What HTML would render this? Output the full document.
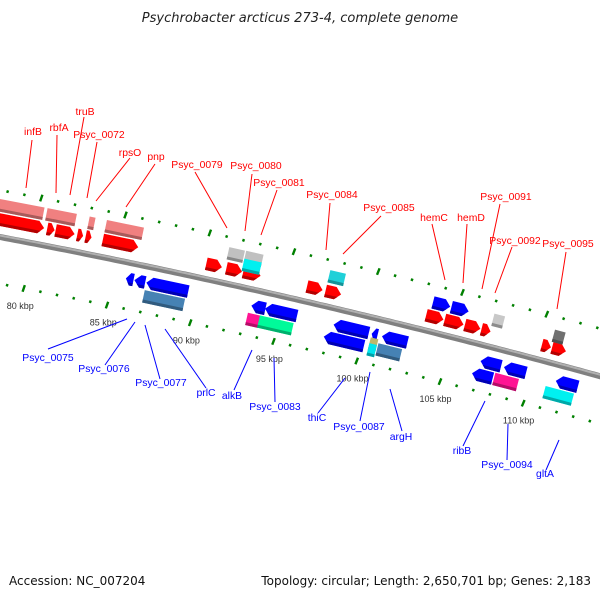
<!DOCTYPE html>
<html><head><meta charset="utf-8"><style>
body{margin:0;background:#fff}
svg{display:block}
text{font-family:"Liberation Sans",sans-serif}
</style></head><body>
<svg id="chart" width="600" height="600" viewBox="0 0 600 600" xmlns="http://www.w3.org/2000/svg">
<text x="300" y="22" text-anchor="middle" font-size="13" font-style="italic" fill="#222" style="font-family:'DejaVu Sans',sans-serif">Psychrobacter arcticus 273-4, complete genome</text>
<g id="ticks"></g>
<g id="backbone"></g>
<g id="genes"></g>
<g id="labels"></g>
<text x="9" y="585" font-size="12" fill="#111" style="font-family:'DejaVu Sans',sans-serif">Accession: NC_007204</text>
<text x="591" y="585" font-size="12" fill="#111" text-anchor="end" style="font-family:'DejaVu Sans',sans-serif">Topology: circular; Length: 2,650,701 bp; Genes: 2,183</text>
</svg>
<script>
// tick data (kbp)
const tickKb = [];
for (let k = 77; k <= 114; k++) tickKb.push(k);
const tickLabelKb = [80, 85, 90, 95, 100, 105, 110];
// genes: start kb, end kb, strand(1 fwd,-1 rev), row offset, colour
const geneStart = [77.5,80.7,81.2,82.5,83.0,84.0, 90.2,91.4,92.4, 96.2,97.3, 103.3,104.4,105.6,106.6, 110.2,110.8,
  77.5,80.5,80.9,83.0,84.0, 91.3,92.3,92.3, 97.3, 103.5,104.6, 107.1, 110.7,
  85.8,86.3,87.0, 93.3,94.1, 98.2,100.5,101.1, 107.0,108.4, 111.5,
  87.0, 93.2,93.9, 97.8,100.5,100.5, 101.0, 106.7,108.0, 111.0];
const geneEnd = [80.5,81.1,82.3,82.8,83.3,86.1, 91.1,92.3,93.4, 97.1,98.2, 104.3,105.5,106.5,107.1, 110.7,111.6,
  80.3,80.9,82.2,83.3,86.2, 92.2,93.3,93.3, 98.2, 104.5,105.6, 107.7, 111.3,
  86.2,86.9,89.5, 94.1,96.0, 100.3,100.8,102.6, 108.2,109.7, 112.8,
  89.4, 93.9,95.9, 100.2,100.9,100.9, 102.4, 107.9,109.4, 112.7];
const geneStrand = [1,1,1,1,1,1, 1,1,1, 1,1, 1,1,1,1, 1,1,
  0,0,0,0,0, 0,0,0, 0, 1,1, 0, 0,
  -1,-1,-1, -1,-1, -1,-1,-1, -1,-1, -1,
  0, 0,0, -1,0,0, 0, -1,0, 0];
const geneRow = [-17,-17,-17,-17,-17,-17, -15,-15,-15, -15,-15, -15,-15,-15,-15, -15,-15,
  -31,-31,-31,-31,-31, -30,-30,-22, -30, -29,-29, -27, -27,
  16,16,16, 16,16, 16,16,16, 16,16, 16,
  30, 30,30, 30,26,32, 30, 30,30, 30];
const geneColor = ['#ff0000','#ff0000','#ff0000','#ff0000','#ff0000','#ff0000','#ff0000','#ff0000','#ff0000','#ff0000','#ff0000','#ff0000','#ff0000','#ff0000','#ff0000','#ff0000','#ff0000',
  '#f08080','#f08080','#f08080','#f08080','#f08080','#c0c0c0','#c0c0c0','#00f0f0','#20d0d8','#0000ff','#0000ff','#c8c8c8','#707070',
  '#0000ff','#0000ff','#0000ff','#0000ff','#0000ff','#0000ff','#0000ff','#0000ff','#0000ff','#0000ff','#0000ff',
  '#4682b4','#ff1493','#00fa9a','#0000ff','#bdb76b','#00e5ee','#4682b4','#0000ff','#ff1493','#00f0f0'];
// labels
const labelText = ['infB','rbfA','truB','Psyc_0072','rpsO','pnp','Psyc_0079','Psyc_0080','Psyc_0081','Psyc_0084','Psyc_0085','hemC','hemD','Psyc_0091','Psyc_0092','Psyc_0095',
  'Psyc_0075','Psyc_0076','Psyc_0077','prlC','alkB','Psyc_0083','thiC','Psyc_0087','argH','ribB','Psyc_0094','gltA'];
const labelPos = [[33,131],[59,127],[85,111],[99,134],[130,152],[156,156],[197,164],[256,165],[279,182],[332,194],[389,207],[434,217],[471,217],[506,196],[515,240],[568,243],
  [48,357],[104,368],[161,382],[206,392],[232,395],[275,406],[317,417],[359,426],[401,436],[462,450],[507,464],[545,473]];
const labelLine = [[32,140,26,188],[57,135,56,193],[84,117,70,195],[97,142,87,198],[130,158,96,201],[155,164,126,207],[195,172,227,228],[252,174,245,231],[277,190,261,235],[330,203,326,250],[381,216,343,254],[432,224,445,280],[467,224,463,283],[500,204,482,289],[512,247,495,293],[566,252,557,309],
  [48,349,127,319],[105,365,135,322],[160,379,145,325],[206,388,165,329],[234,390,252,350],[275,402,274,358],[318,413,345,378],[360,421,370,372],[402,431,390,389],[463,446,485,401],[507,460,508,424],[546,470,559,440]];

const NS = 'http://www.w3.org/2000/svg';
function yb(x){return 237 + 0.19*x + 7e-5*x*x;}
function slope(x){return 0.19 + 1.4e-4*x;}
function kx(kb){return 32.5 + (kb-80)*16.75;}
function pos(kb, off){const x0=kx(kb), t=Math.atan(slope(x0));return {x:x0-off*Math.sin(t), y:yb(x0)+off*Math.cos(t), a:t*180/Math.PI};}
function mk(tag, attrs, parent){const e=document.createElementNS(NS,tag);for(const k in attrs)e.setAttribute(k,attrs[k]);parent.appendChild(e);return e;}

// backbone
const bb=document.getElementById('backbone');
let d='';for(let x=-10;x<=610;x+=5){d+=(x===-10?'M':'L')+x+' '+yb(x).toFixed(1)+' ';}
const bl=mk('path',{d:d,stroke:'#808080','stroke-width':6,fill:'none'},bb);


const bh=mk('path',{d:d,stroke:'#b0b0b0','stroke-width':2,fill:'none',transform:'translate(0,-1.5)'},bb);



// ticks
const tg=document.getElementById('ticks');
tickKb.forEach(k=>{
  const major = k%5===0;
  [-46,46].forEach(off=>{
    const p=pos(k,off);
    const r=mk('rect',{x:-1.2,y:major?-3.5:-1.3,width:2.4,height:major?7:2.6,fill:'#008000',transform:`translate(${p.x.toFixed(1)},${p.y.toFixed(1)}) rotate(${(p.a+8).toFixed(1)})`},tg);
    
    
  });
});
tickLabelKb.forEach(k=>{
  const p=pos(k,64);
  const t=mk('text',{x:p.x.toFixed(1),y:(p.y+3).toFixed(1),'text-anchor':'middle','font-size':9,fill:'#333'},tg);
  t.textContent=k+' kbp';
  
  
});

// genes
const gg=document.getElementById('genes');
function shade(c,f){const n=parseInt(c.slice(1),16);let r=n>>16,g=(n>>8)&255,b=n&255;r=Math.round(r*f);g=Math.round(g*f);b=Math.round(b*f);return `rgb(${r},${g},${b})`;}
geneStart.forEach((s,i)=>{
  const e=geneEnd[i], mid=(s+e)/2, w=(e-s)*16.75+1, h=12.5, st=geneStrand[i];
  const p=pos(mid,geneRow[i]);
  const g=mk('g',{transform:`translate(${p.x.toFixed(1)},${p.y.toFixed(1)}) rotate(${p.a.toFixed(1)})`},gg);
  
  
  const a=Math.min(6,w*0.55), hw=w/2, hh=h/2;
  let pts;
  if(st===1) pts=[[-hw,-hh],[hw-a,-hh],[hw,0],[hw-a,hh],[-hw,hh]];
  else if(st===-1) pts=[[hw,-hh],[-hw+a,-hh],[-hw,0],[-hw+a,hh],[hw,hh]];
  else pts=[[-hw,-hh],[hw,-hh],[hw,hh],[-hw,hh]];
  mk('polygon',{points:pts.map(q=>q.map(v=>v.toFixed(1)).join(',')).join(' '),fill:geneColor[i]},g);
  const bpts = st===0 ? [[-hw,hh-3],[hw,hh-3],[hw,hh],[-hw,hh]] :
    st===1 ? [[-hw,hh-3],[hw-a*0.5,hh-3],[hw-a,hh],[-hw,hh]] : [[hw,hh-3],[-hw+a*0.5,hh-3],[-hw+a,hh],[hw,hh]];
  mk('polygon',{points:bpts.map(q=>q.map(v=>v.toFixed(1)).join(',')).join(' '),fill:shade(geneColor[i],0.7)},g);
});

// labels
const lg=document.getElementById('labels');
labelText.forEach((txt,i)=>{
  const col = i<16 ? '#ff0000' : '#0000ff';
  const L=labelLine[i];
  const ln=mk('line',{x1:L[0],y1:L[1],x2:L[2],y2:L[3],stroke:col,'stroke-width':1},lg);
  
  
  const t=mk('text',{x:labelPos[i][0],y:labelPos[i][1]+4,'text-anchor':'middle','font-size':10.4,fill:col},lg);
  t.textContent=txt;
  
  
});
</script>
</body></html>
